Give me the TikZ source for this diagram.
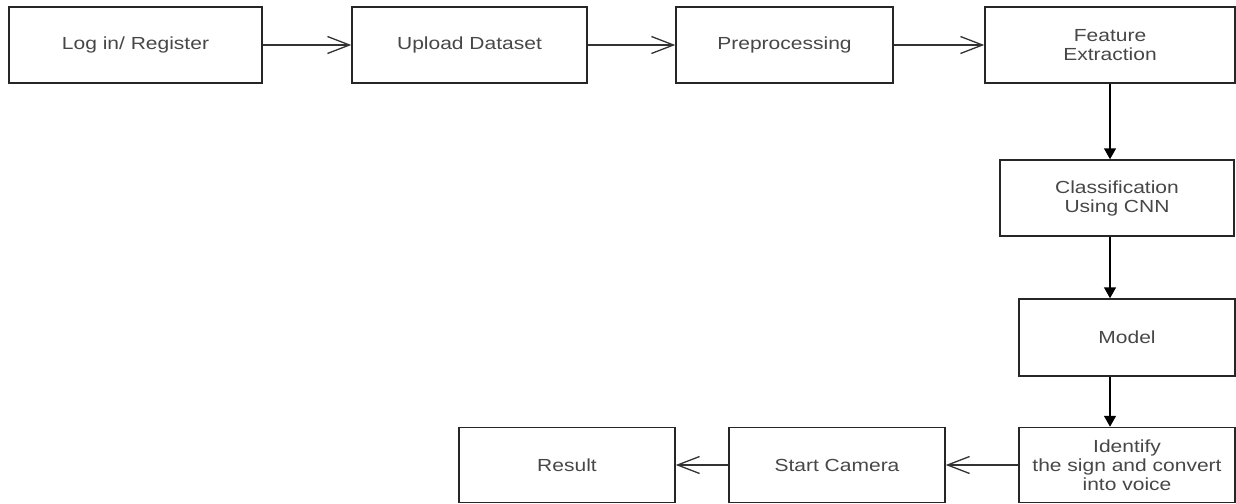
\documentclass[tikz,border=0pt]{standalone}
\usepackage{fontspec}
\setmainfont[FakeStretch=1.2]{Liberation Sans}
\usetikzlibrary{arrows.meta}
\begin{document}
\begin{tikzpicture}[x=1pt,y=-1pt,
  box/.style={draw=black!85, line width=1.5pt, text=black!72, fill=white,
    font=\fontsize{17.5}{19}\selectfont, align=center, inner sep=0pt},
  openarr/.style={-{Straight Barb[length=22pt,width=17pt,line width=1.3pt]}, line width=1.3pt, draw=black!80},
  downarr/.style={-{Triangle[length=11pt,width=12pt]}, line width=1.5pt, draw=black}]
\useasboundingbox[fill=white] (0,0) rectangle (1236,503);
\node[box, minimum width=253pt, minimum height=76pt] (login) at (135.5,45) {Log in/ Register};
\node[box, minimum width=235pt, minimum height=76pt] (upload) at (469.5,45) {Upload Dataset};
\node[box, minimum width=217pt, minimum height=76pt] (prep) at (784.5,45) {Preprocessing};
\node[box, minimum width=250pt, minimum height=76pt] (feat) at (1110,45) {Feature\\Extraction};
\node[box, minimum width=234pt, minimum height=76pt] (cls) at (1117,198) {Classification\\Using CNN};
\node[box, minimum width=216pt, minimum height=77pt] (model) at (1127,337.5) {Model};
\node[box, minimum width=216pt, minimum height=75pt] (ident) at (1127,465) {Identify\\the sign and convert\\into voice};
\node[box, minimum width=216pt, minimum height=75pt] (cam) at (837,465) {Start Camera};
\node[box, minimum width=216pt, minimum height=75pt] (res) at (567,465) {Result};
\draw[openarr] (login) -- (upload);
\draw[openarr] (upload) -- (prep);
\draw[openarr] (prep) -- (feat);
\draw[downarr] (feat.south) -- (feat.south |- cls.north);
\draw[downarr] (feat.south |- cls.south) -- (feat.south |- model.north);
\draw[downarr] (feat.south |- model.south) -- (feat.south |- ident.north);
\draw[openarr] (ident) -- (cam);
\draw[openarr] (cam) -- (res);
\end{tikzpicture}
\end{document}
